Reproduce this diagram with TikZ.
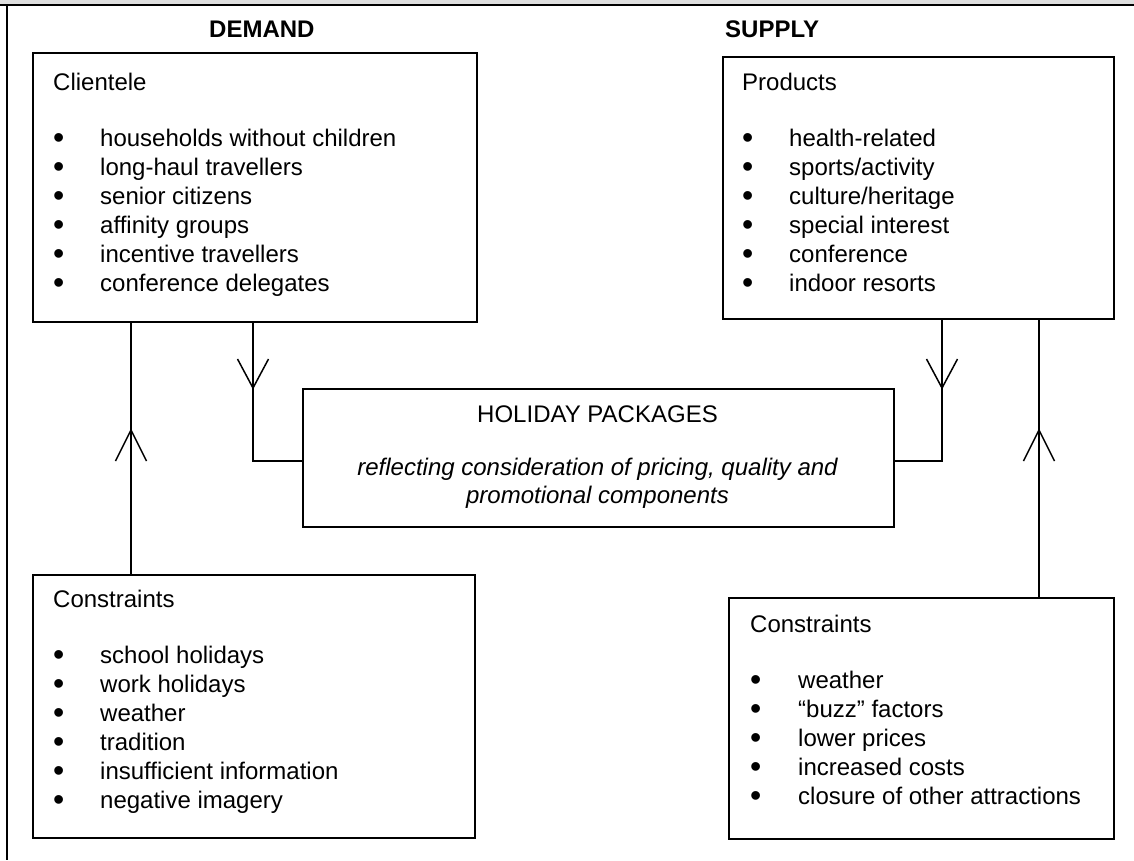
\documentclass[tikz,border=0pt]{standalone}
\usepackage{fontspec}
\setmainfont{Liberation Sans}
\usetikzlibrary{calc}
\newcommand\mybul[1][47pt]{\makebox[#1][l]{\raisebox{-2.5pt}{\fontsize{32}{29}\selectfont\textbullet}}}
\begin{document}
\begin{tikzpicture}[x=1pt,y=-1pt,
  box/.style={draw, line width=1.8pt, inner sep=0pt, anchor=north west},
  conn/.style={line width=1.5pt},
  txt/.style={inner sep=0pt, anchor=north west, align=left, font=\fontsize{24}{29}\selectfont},
  head/.style={inner sep=0pt, anchor=base west, font=\bfseries\fontsize{24}{29}\selectfont},
]
\useasboundingbox (0,0) rectangle (1134,860);
\fill[black!13] (0,0) rectangle (1134,4);
\draw[line width=2.4pt] (0,5.2) -- (1134,5.2);
\draw[line width=2pt] (7.3,5) -- (7.3,860);

% headings
\node[head] (dem) at (209,37) {DEMAND};
\node[head] (sup) at (725,37) {SUPPLY};

% boxes
\node[box, minimum width=444, minimum height=269] (cli) at (32,52) {};
\node[box, minimum width=391, minimum height=262] (prod) at (722,56) {};
\node[box, minimum width=591, minimum height=138] (hp) at (302,388) {};
\node[box, minimum width=442, minimum height=263] (dcon) at (32,574) {};
\node[box, minimum width=385, minimum height=241] (scon) at (728,597) {};

% texts
\node[txt] (clit) at (53,69.7) {\strut Clientele\\[27pt]
\strut\mybul households without children\\
\strut\mybul long-haul travellers\\
\strut\mybul senior citizens\\
\strut\mybul affinity groups\\
\strut\mybul incentive travellers\\
\strut\mybul conference delegates};

\node[txt] (prodt) at (742,69.7) {\strut Products\\[27pt]
\strut\mybul health-related\\
\strut\mybul sports/activity\\
\strut\mybul culture/heritage\\
\strut\mybul special interest\\
\strut\mybul conference\\
\strut\mybul indoor resorts};

\node[txt] (dcont) at (53,586.7) {\strut Constraints\\[27pt]
\strut\mybul school holidays\\
\strut\mybul work holidays\\
\strut\mybul weather\\
\strut\mybul tradition\\
\strut\mybul insufficient information\\
\strut\mybul negative imagery};

\node[txt] (scont) at (750,611.7) {\strut Constraints\\[27pt]
\strut\mybul[48pt]weather\\
\strut\mybul[48pt]``buzz'' factors\\
\strut\mybul[48pt]lower prices\\
\strut\mybul[48pt]increased costs\\
\strut\mybul[48pt]closure of other attractions};

\node[inner sep=0pt, anchor=base, font=\fontsize{24}{29}\selectfont] (hpt) at (597.5,422) {HOLIDAY PACKAGES};
\node[inner sep=0pt, anchor=north, align=center, font=\itshape\fontsize{24}{28}\selectfont] (hpi) at (597.5,455.4)
  {\strut reflecting consideration of pricing, quality and\\\strut promotional components};

% connectors
\coordinate (xl1) at (131,0);
\coordinate (xl2) at (253,0);
\coordinate (xr1) at (942,0);
\coordinate (xr2) at (1039,0);
\coordinate (yc) at (0,461);
\draw[conn] (dcon.north -| xl1) -- (cli.south -| xl1);
\draw[conn] (cli.south -| xl2) |- (hp.west |- yc);
\draw[conn] (prod.south -| xr1) |- (hp.east |- yc);
\draw[conn] (scon.north -| xr2) -- (prod.south -| xr2);

% open arrowheads
\coordinate (tl1) at (131,430);
\coordinate (tl2) at (253,388);
\coordinate (tr1) at (942,388);
\coordinate (tr2) at (1039,430);
\draw[conn] ($(tl2)+(-15.5,-29)$) -- (tl2) -- ($(tl2)+(15.5,-29)$);
\draw[conn] ($(tr1)+(-15.5,-29)$) -- (tr1) -- ($(tr1)+(15.5,-29)$);
\draw[conn] ($(tl1)+(-15.5,31)$) -- (tl1) -- ($(tl1)+(15.5,31)$);
\draw[conn] ($(tr2)+(-15.5,31)$) -- (tr2) -- ($(tr2)+(15.5,31)$);
\end{tikzpicture}
\end{document}
